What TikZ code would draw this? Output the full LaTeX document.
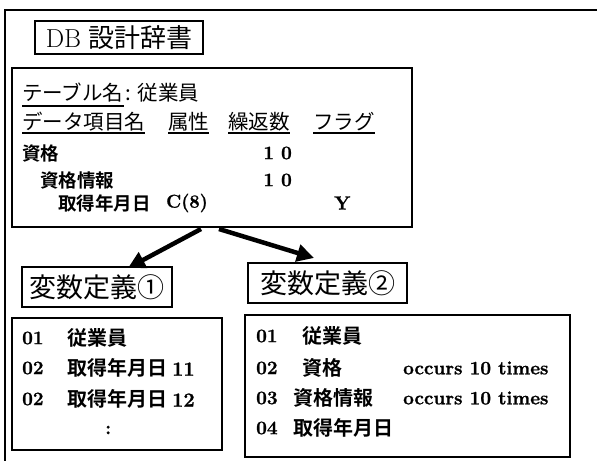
\documentclass[tikz,border=0pt]{standalone}
\usepackage{fontspec}
\usetikzlibrary{arrows.meta}
\newfontfamily\jp{Noto Sans CJK JP}
\newfontfamily\jpb{Noto Sans CJK JP Bold}
\newfontfamily\latb{Latin Modern Roman}[FakeBold=1.2]
\begin{document}
\begin{tikzpicture}[x=1pt,y=-1pt,
  boxst/.style={draw,line width=2pt,inner sep=0pt},
  hrow/.style={anchor=west,inner sep=0pt,font=\fontsize{20.5}{20.5}\selectfont\jp},
  row/.style={anchor=west,inner sep=0pt,font=\fontsize{18.5}{18.5}\selectfont\jpb},
  lat/.style={anchor=west,inner sep=0pt,font=\fontsize{19}{19}\selectfont\latb\bfseries},
  lrow/.style={anchor=west,inner sep=0pt,font=\fontsize{20}{20}\selectfont\jpb},
  ul/.style={line width=1.3pt},
  bigarrow/.style={line width=4.5pt,-{Triangle[length=17pt,width=17pt]}}]
\useasboundingbox (0,0) rectangle (597,461);
\fill[white] (0,0) rectangle (597,461);
% outer frame (top and left edges)
\draw[line width=1.4pt] (597,10) -- (5,10) -- (5,461);
% header box
\node[boxst,minimum width=168pt,minimum height=33pt] (db) at (119,37.5) {\fontsize{26}{26}\selectfont DB\hspace{7pt}\jp 設計辞書};
% table box
\node[boxst,minimum width=400pt,minimum height=159pt] (tbl) at (212,147.5) {};
\node[hrow] (t1) at (22,93) {テーブル名};
\node[hrow] (t1b) at ([xshift=2pt]t1.east) {: 従業員};
\node[hrow] (h1) at (22,122) {データ項目名};
\node[hrow] (h2) at (168,122) {属性};
\node[hrow] (h3) at (228,122) {繰返数};
\node[hrow] (h4) at (313,122) {フラグ};
\draw[ul] (22,106) -- (t1.east |- 0,106);
\draw[ul] (22,133) -- (h1.east |- 0,133);
\draw[ul] (h2.west |- 0,133) -- (h2.east |- 0,133);
\draw[ul] (h3.west |- 0,133) -- (h3.east |- 0,133);
\draw[ul] (h4.west |- 0,133) -- (h4.east |- 0,133);
\node[row] (r1) at (22,153) {資格};
\node[lat,anchor=east] (r1n) at (292,153) {1\hspace{7pt}0};
\node[row] (r2) at (40,180) {資格情報};
\node[lat,anchor=east] (r2n) at (292,180) {1\hspace{7pt}0};
\node[row] (r3) at (58,203) {取得年月日};
\node[lat,font=\fontsize{18.5}{18.5}\selectfont\latb\bfseries] (r3c) at (166,203) {C(8)};
\node[lat] (r3y) at (334,203) {Y};
% arrows
\coordinate (a1s) at (201,229);
\coordinate (a1e) at (128,268);
\coordinate (a2s) at (219,229);
\coordinate (a2e) at (314,258);
\draw[bigarrow] (a1s) -- (a1e);
\draw[bigarrow] (a2s) -- (a2e);
% variable definition 1
\node[boxst,minimum width=150pt,minimum height=40pt,font=\fontsize{27}{27}\selectfont\jp] (v1) at (97,287) {変数定義①};
\node[boxst,minimum width=210pt,minimum height=132pt] (l1) at (117,384) {};
\node[lat] (l1a) at (22,338) {01};
\node[lrow] (l1at) at (67,338) {従業員};
\node[lat] (l1b) at (22,368) {02};
\node[lrow] (l1bt) at (67,368) {取得年月日\hspace{5pt}{\latb\bfseries 11}};
\node[lat] (l1c) at (22,399) {02};
\node[lrow] (l1ct) at (67,399) {取得年月日\hspace{5pt}{\latb\bfseries 12}};
\node[lat] (l1d) at (105,430) {:};
% variable definition 2
\node[boxst,minimum width=159pt,minimum height=40pt,font=\fontsize{27}{27}\selectfont\jp] (v2) at (327.5,283) {変数定義②};
\node[boxst,minimum width=325pt,minimum height=142pt] (l2) at (407.5,386) {};
\node[lat] (m1) at (256,336) {01};
\node[lrow] (m1t) at (302,336) {従業員};
\node[lat] (m2) at (256,368) {02};
\node[lrow] (m2t) at (302,368) {資格};
\node[lat] (m2o) at (403,368) {occurs 10 times};
\node[lat] (m3) at (256,398) {03};
\node[lrow] (m3t) at (293,398) {資格情報};
\node[lat] (m3o) at (403,398) {occurs 10 times};
\node[lat] (m4) at (256,428) {04};
\node[lrow] (m4t) at (293,428) {取得年月日};
\end{tikzpicture}
\end{document}
